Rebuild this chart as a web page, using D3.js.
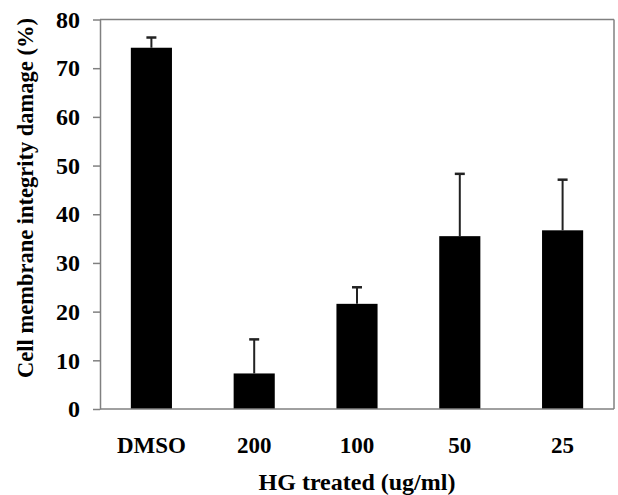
<!DOCTYPE html>
<html>
<head>
<meta charset="utf-8">
<script src="https://cdn.jsdelivr.net/npm/d3@7"></script>
<style>
  html, body { margin: 0; padding: 0; background: #fff; }
  text { font-family: "Liberation Serif", "Times New Roman", serif; font-weight: bold; fill: #000; }
</style>
</head>
<body>
<svg id="chart" width="618" height="495"></svg>
<script>
const categories = ["DMSO", "200", "100", "50", "25"];
const values = [74.2, 7.3, 21.6, 35.5, 36.7];
const errors = [2.1, 7.0, 3.4, 12.8, 10.4];
const yTicks = [0, 10, 20, 30, 40, 50, 60, 70, 80];
const xTitle = "HG treated (ug/ml)";
const yTitle = "Cell membrane integrity damage (%)";

const svg = d3.select("#chart");
const mLeft = 100, mRight = 614, mTop = 19.5, mBottom = 409;

const x = d3.scaleBand().domain(categories).range([mLeft, mRight]).paddingInner(0.6).paddingOuter(0.3);
const y = d3.scaleLinear().domain([0, 80]).range([mBottom, mTop]);

const data = categories.map((c, i) => ({ c, v: values[i], e: errors[i] }));

// frame (top and right)
svg.append("line").attr("x1", mLeft).attr("x2", mRight).attr("y1", mTop).attr("y2", mTop)
  .attr("stroke", "#808080").attr("stroke-width", 1.5);
svg.append("line").attr("x1", mRight).attr("x2", mRight).attr("y1", mTop).attr("y2", mBottom)
  .attr("stroke", "#808080").attr("stroke-width", 1.5);

// bars
svg.selectAll("rect.bar").data(data).enter().append("rect")
  .attr("class", "bar")
  .attr("x", d => x(d.c))
  .attr("width", x.bandwidth())
  .attr("y", d => y(d.v))
  .attr("height", d => y(0) - y(d.v))
  .attr("fill", "#000");

// error bars
const eb = svg.selectAll("g.err").data(data).enter().append("g").attr("class", "err");
eb.append("line")
  .attr("x1", d => x(d.c) + x.bandwidth() / 2).attr("x2", d => x(d.c) + x.bandwidth() / 2)
  .attr("y1", d => y(d.v)).attr("y2", d => y(d.v + d.e))
  .attr("stroke", "#222").attr("stroke-width", 2);
eb.append("line")
  .attr("x1", d => x(d.c) + x.bandwidth() / 2 - 5).attr("x2", d => x(d.c) + x.bandwidth() / 2 + 5)
  .attr("y1", d => y(d.v + d.e)).attr("y2", d => y(d.v + d.e))
  .attr("stroke", "#222").attr("stroke-width", 2.5);

// y axis
const yAxis = svg.append("g").attr("transform", `translate(${mLeft},0)`)
  .call(d3.axisLeft(y).tickValues(yTicks).tickSize(7).tickSizeOuter(0).tickPadding(13));
yAxis.select(".domain").attr("stroke", "#808080").attr("stroke-width", 1.5);
yAxis.selectAll(".tick line").attr("stroke", "#808080").attr("stroke-width", 1.5);
yAxis.selectAll(".tick text").attr("font-size", 24).attr("font-family", "Liberation Serif")
  .attr("font-weight", "bold").attr("fill", "#000");

// x axis
const xAxis = svg.append("g").attr("transform", `translate(0,${mBottom})`)
  .call(d3.axisBottom(x).tickSize(0).tickSizeOuter(0).tickPadding(22));
xAxis.select(".domain").attr("d", `M${mLeft},0H${mRight}`).attr("stroke", "#808080").attr("stroke-width", 1.5);
xAxis.selectAll(".tick text").attr("font-size", 23).attr("font-family", "Liberation Serif")
  .attr("font-weight", "bold").attr("fill", "#000").attr("dy", null).attr("y", 44);

// titles
svg.append("text").attr("x", (mLeft + mRight) / 2).attr("y", 490)
  .attr("text-anchor", "middle").attr("font-size", 24).text(xTitle);
svg.append("text").attr("transform", "translate(33,198) rotate(-90)")
  .attr("text-anchor", "middle").attr("font-size", 22.5).text(yTitle);
</script>
</body>
</html>
